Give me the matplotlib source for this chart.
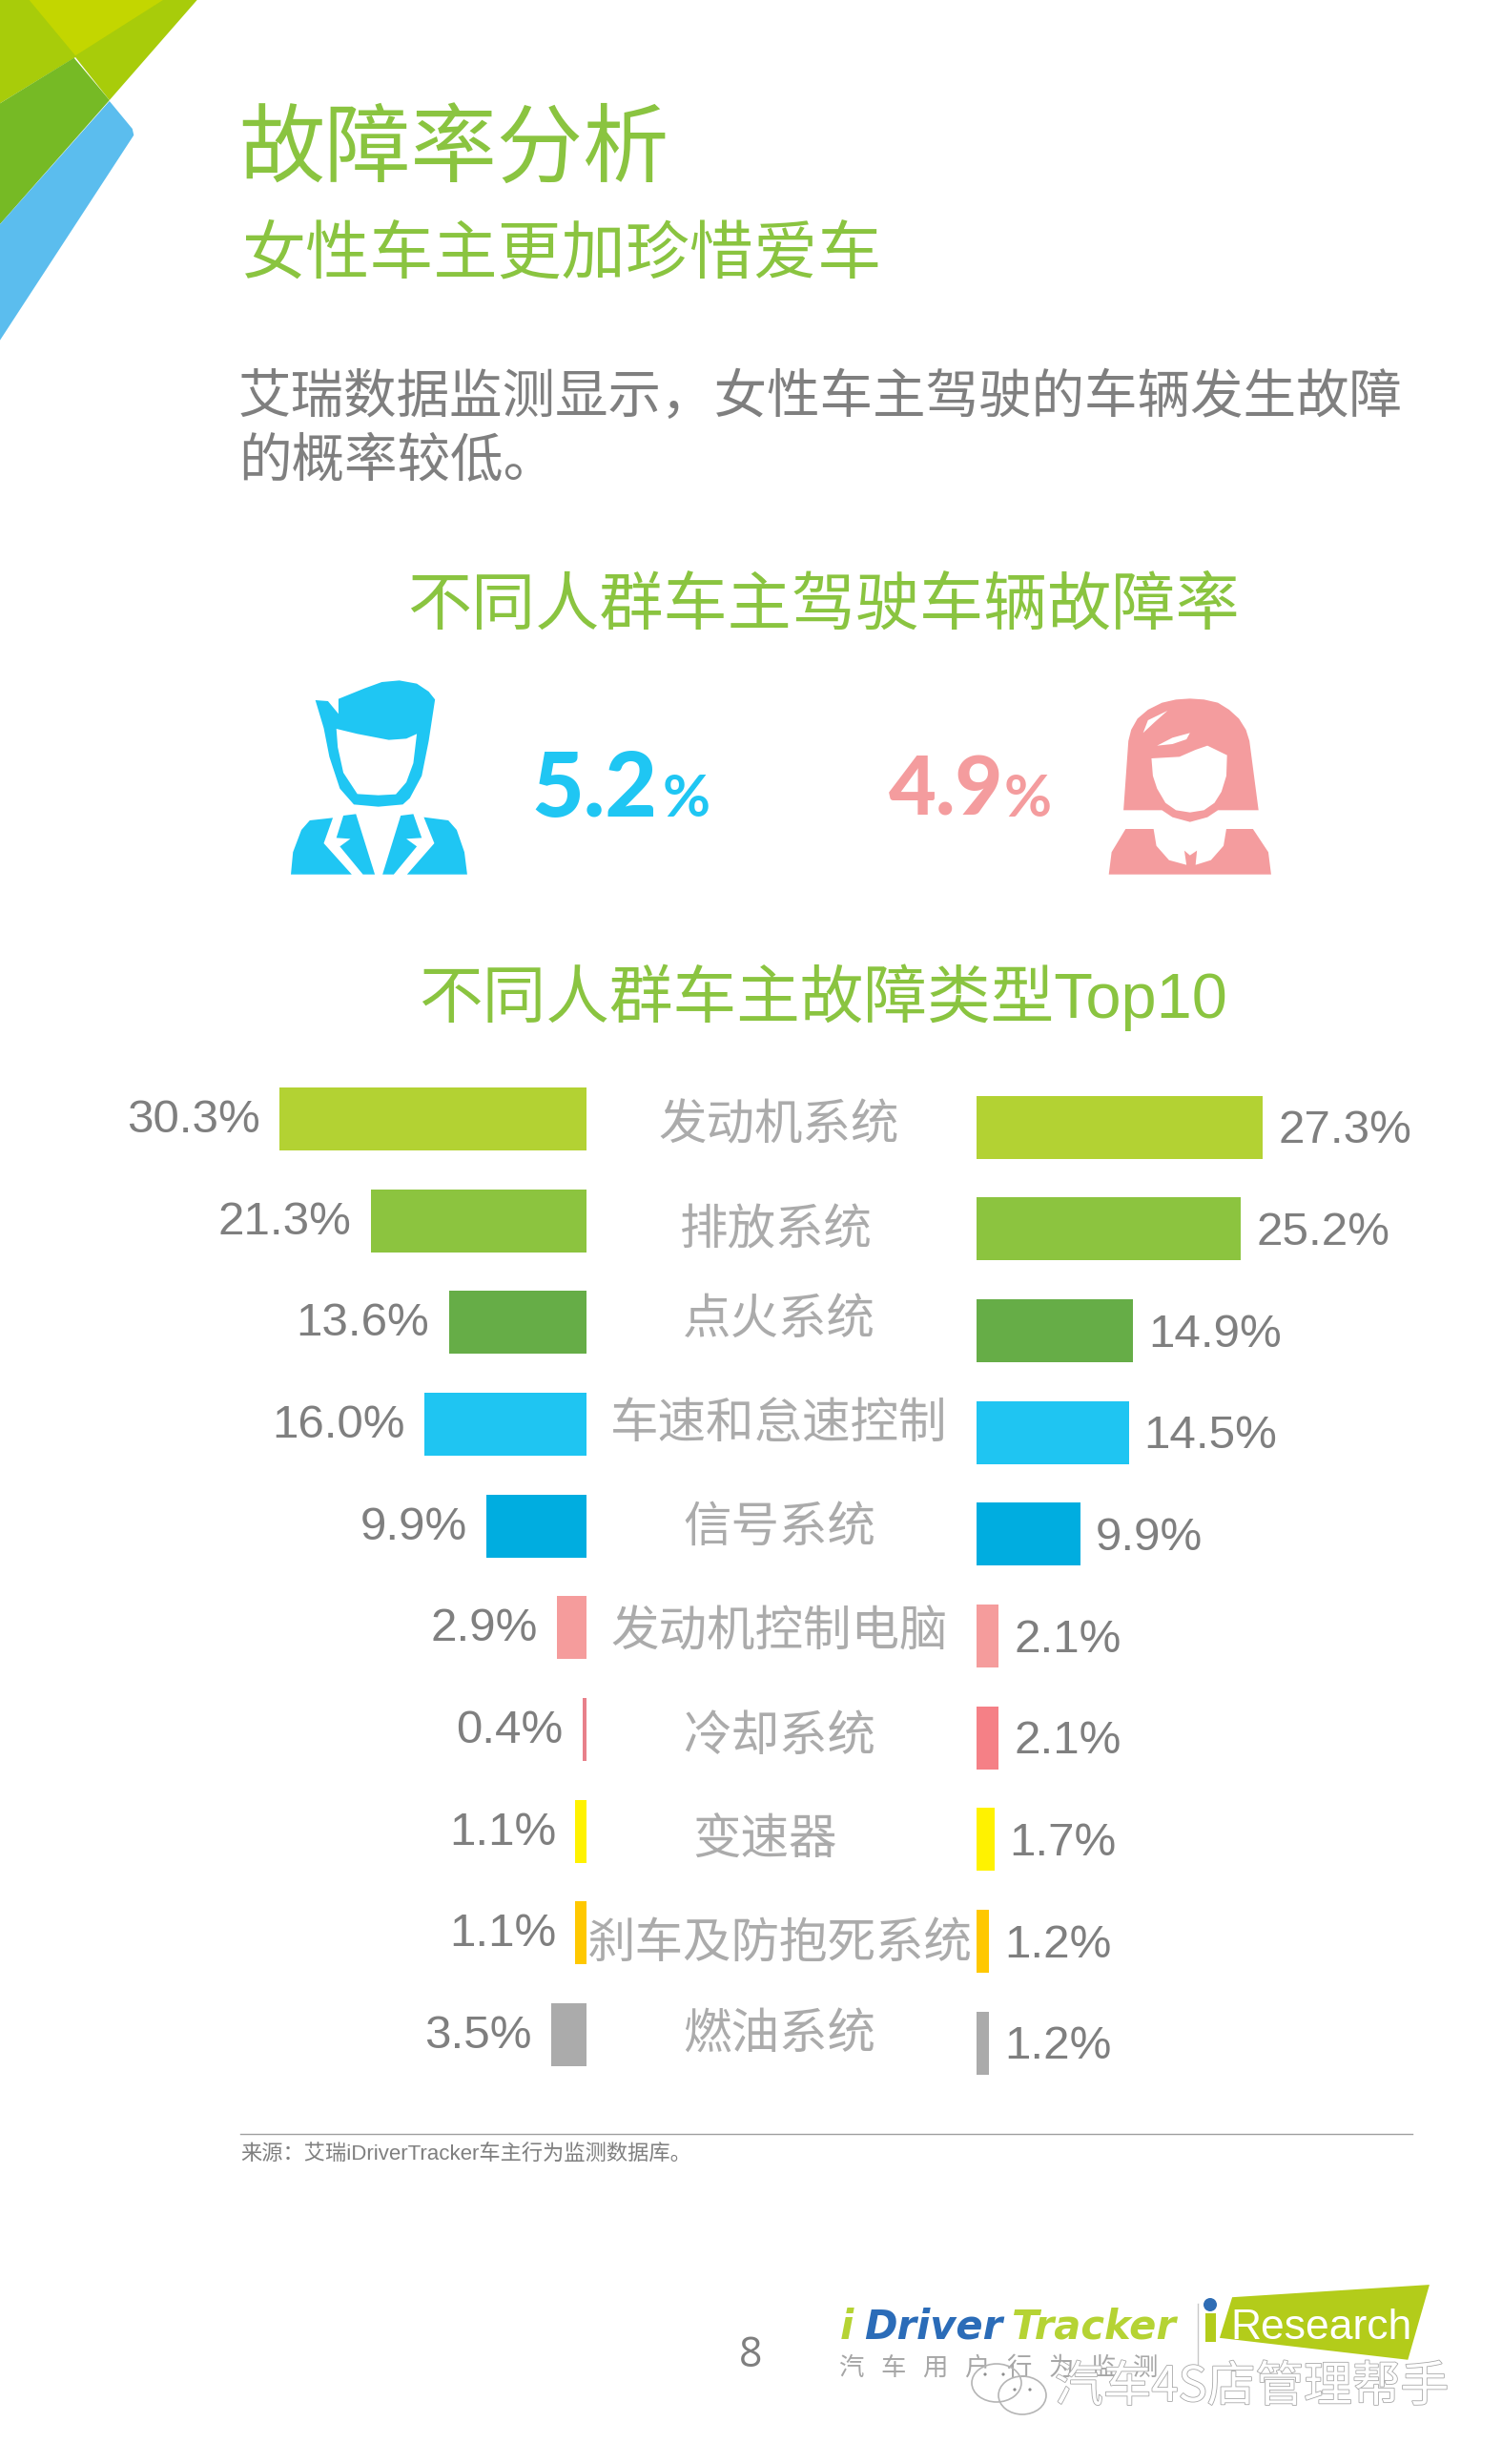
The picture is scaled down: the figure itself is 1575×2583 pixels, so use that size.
import matplotlib
matplotlib.use("Agg")
import matplotlib.pyplot as plt
from matplotlib.patches import Polygon, Ellipse, Circle, Rectangle
import matplotlib.patheffects as pe

plt.rcParams['font.family'] = ['Noto Sans CJK SC', 'DejaVu Sans']

W, H = 1575, 2583
DPI = 100

# ---- data ----
categories = ['发动机系统', '排放系统', '点火系统', '车速和怠速控制', '信号系统',
              '发动机控制电脑', '冷却系统', '变速器', '刹车及防抱死系统', '燃油系统']
male_values = [30.3, 21.3, 13.6, 16.0, 9.9, 2.9, 0.4, 1.1, 1.1, 3.5]
female_values = [27.3, 25.2, 14.9, 14.5, 9.9, 2.1, 2.1, 1.7, 1.2, 1.2]
male_rate = '5.2'
female_rate = '4.9'

# ---- styles ----
bar_colors = ['#B3D233', '#8CC43F', '#66AD47', '#1FC5F2', '#00ADE0',
              '#F59C9C', '#F58086', '#FFF200', '#FFC800', '#ABABAB']
male_colors = bar_colors[:6] + ['#E8808A'] + bar_colors[7:]
GREEN = '#8AC440'
GRAY = '#7F7F7F'
CAT = '#ABABAB'
BLUE = '#1FC6F3'
PINK = '#F49C9E'
MIXED = ['Liberation Sans', 'Noto Sans CJK SC']
cat_x = [817, 814, 817, 817, 817, 817, 817, 802, 818, 817]
cat_y = [1180, 1290, 1384, 1493, 1602, 1711, 1821, 1930, 2038, 2134]

fig = plt.figure(figsize=(W / DPI, H / DPI), dpi=DPI, facecolor='white')

deco = fig.add_axes([0, 0, 1, 1], zorder=0)
deco.set_xlim(0, W)
deco.set_ylim(H, 0)
deco.axis('off')


def poly(points, color, sx=1.0, sy=1.0, ox=0.0, oy=0.0, z=1):
    pts = [(ox + x / sx, oy + y / sy) for x, y in points]
    deco.add_patch(Polygon(pts, closed=True, facecolor=color, edgecolor='none', zorder=z))


# corner decoration
c = dict(sx=1.96, sy=3.0)
poly([(0, 0), (405, 0), (225, 315), (155, 180), (0, 325)], '#A8CC0A', **c)
poly([(60, 0), (335, 0), (155, 175)], '#C3D600', **c)
poly([(0, 325), (152, 182), (225, 315), (0, 705)], '#76BA25', **c)
poly([(225, 318), (272, 405), (275, 425), (0, 1070), (0, 705)], '#5BBDEE', **c)

# icons
ic = dict(sx=1.363, sy=3.0, ox=250, oy=680)
poly([(110, 162), (128, 165), (143, 205), (143, 158), (180, 125), (205, 105), (230, 100), (255, 110),
      (272, 135), (281, 160), (272, 290), (262, 400), (245, 470), (235, 490), (200, 497), (165, 490),
      (145, 440), (130, 340), (122, 250)], BLUE, **ic)
poly([(140, 252), (170, 268), (215, 287), (240, 283), (255, 268), (250, 360), (240, 420), (225, 458),
      (200, 461), (170, 457), (150, 390), (142, 310)], 'white', z=2, **ic)
poly([(75, 710), (78, 640), (90, 570), (102, 540), (135, 532), (122, 612), (162, 710)], BLUE, **ic)
poly([(150, 525), (168, 520), (195, 710), (178, 710), (145, 622), (160, 598), (140, 595)], BLUE, **ic)
poly([(241, 710), (280, 612), (265, 530), (300, 540), (312, 570), (323, 640), (327, 710)], BLUE, **ic)
poly([(232, 525), (250, 520), (262, 595), (240, 598), (255, 622), (222, 710), (206, 710)], BLUE, **ic)

poly([(1265, 508), (1272, 290), (1276, 255), (1285, 220), (1300, 192), (1320, 170), (1340, 160), (1360, 157),
      (1380, 160), (1400, 170), (1416, 192), (1430, 220), (1440, 255), (1445, 290), (1458, 508), (1400, 508),
      (1385, 530), (1360, 545), (1335, 530), (1320, 508)], PINK, **ic)
poly([(1305, 345), (1345, 340), (1368, 318), (1385, 305), (1413, 335), (1412, 400), (1405, 450), (1395, 485),
      (1380, 508), (1360, 515), (1340, 508), (1325, 485), (1313, 440), (1307, 400)], 'white', z=2, **ic)
poly([(1293, 265), (1300, 225), (1328, 195), (1310, 230)], 'white', z=2, **ic)
poly([(1313, 305), (1335, 280), (1360, 265), (1355, 285), (1335, 300)], 'white', z=2, **ic)
poly([(1244, 710), (1248, 640), (1268, 567), (1308, 567), (1312, 620), (1330, 665), (1355, 680),
      (1352, 635), (1360, 650), (1370, 635), (1368, 680), (1390, 665), (1408, 620), (1412, 567),
      (1450, 567), (1472, 640), (1476, 710)], PINK, **ic)


def t(x, y, s, size, color, ha='left', va='center', **kw):
    return deco.text(x, y, s, fontsize=size, color=color, ha=ha, va=va, zorder=5, **kw)


# headings
t(250, 159, '故障率分析', 65, GREEN)
t(254, 268, '女性车主更加珍惜爱车', 48.3, GREEN)
t(250, 417, '艾瑞数据监测显示，女性车主驾驶的车辆发生故障', 40, GRAY)
t(250, 484, '的概率较低。', 40, GRAY)
t(863, 636, '不同人群车主驾驶车辆故障率', 48.3, GREEN, ha='center')
t(863, 1046, '不同人群车主故障类型Top10', 48, GREEN, ha='center', family=MIXED)

# big rates
t(557, 829, male_rate, 68, BLUE, family='Lato', weight='black')
t(695, 838, '%', 44, BLUE, family='Lato', weight='bold')
t(932, 830, female_rate, 62, PINK, family='Lato', weight='black')
t(1053, 838, '%', 44, PINK, family='Lato', weight='bold')

# category labels
for cx, cy, name in zip(cat_x, cat_y, categories):
    t(cx, cy, name, 36.4, CAT, ha='center')

# bars
PITCH = 106.67
BAR_H = 66 / PITCH


def bar_axes(x0, x1, first_center, px_per_unit, reverse):
    top = first_center - PITCH / 2
    bottom = first_center + PITCH * 9.5
    ax = fig.add_axes([x0 / W, 1 - bottom / H, (x1 - x0) / W, (bottom - top) / H], zorder=3)
    ax.patch.set_alpha(0)
    span = (x1 - x0) / px_per_unit
    ax.set_xlim(span, 0) if reverse else ax.set_xlim(0, span)
    ax.set_ylim(9.5, -0.5)
    ax.axis('off')
    return ax


ax_l = bar_axes(100, 615, 1173, 10.62, True)
ax_r = bar_axes(1024, 1500, 1181.5, 11.0, False)
ypos = list(range(len(categories)))
ax_l.barh(ypos, male_values, height=BAR_H, color=male_colors, linewidth=0)
ax_r.barh(ypos, female_values, height=BAR_H, color=bar_colors, linewidth=0)

for y, v in zip(ypos, male_values):
    ax_l.annotate(f'{v:.1f}%', (v, y), xytext=(-14.5, -1), textcoords='offset points', ha='right',
                  va='center', fontsize=35.5, color=GRAY, family='Liberation Sans')
for y, v in zip(ypos, female_values):
    ax_r.annotate(f'{v:.1f}%', (v, y), xytext=(11.5, -3), textcoords='offset points', ha='left',
                  va='center', fontsize=35.5, color=GRAY, family='Liberation Sans')

# footer rule + source
deco.plot([252, 1481], [2237, 2237], color='#A0A0A0', lw=1, zorder=4)
t(252, 2259, '来源：艾瑞iDriverTracker车主行为监测数据库。', 16, GRAY, family=MIXED)
t(787, 2470, '8', 31, GRAY, ha='center', family='Open Sans')

# logos
t(881, 2440, 'i', 30, '#B5D334', family='DejaVu Sans', weight='bold', style='oblique')
t(906, 2440, 'Driver', 30, '#2B6CB8', family='DejaVu Sans', weight='bold', style='oblique')
t(1061, 2440, 'Tracker', 30, '#B5D334', family='DejaVu Sans', weight='bold', style='oblique')
t(880, 2482, '汽   车   用   户   行   为   监   测', 19, '#A6A6A6')
deco.plot([1256, 1256], [2415, 2478], color='#C8C8C8', lw=1, zorder=4)
deco.add_patch(Circle((1269, 2416), 7, facecolor='#2F6DB5', edgecolor='none', zorder=4))
deco.add_patch(Rectangle((1264, 2425), 11, 30, facecolor='#B3CC1A', edgecolor='none', zorder=4))
poly([(1030, 208), (1423, 168), (1380, 408), (1005, 338)], '#B3CC1A', sx=1.9, sy=3.05, ox=750, oy=2340, z=4)
t(1290, 2441, 'Research', 32, 'white', family='Liberation Sans')

# watermark
wm = t(1106, 2503, '汽车4S店管理帮手', 36.5, 'white')
wm.set_path_effects([pe.withStroke(linewidth=1.2, foreground='#A8A8A8')])
wm.set_zorder(7)
for (cx, cy, w_, h_) in [(1045, 2498, 52, 40), (1072, 2511, 50, 40)]:
    deco.add_patch(Ellipse((cx, cy), w_, h_, facecolor='none', edgecolor='#B5B5B5', lw=1.2, zorder=7))
for ex, ey in [(1064, 2505), (1080, 2505), (1033, 2489), (1052, 2489)]:
    deco.add_patch(Circle((ex, ey), 1.6, facecolor='#8C8C8C', edgecolor='none', zorder=7))

fig.savefig('out.png', dpi=DPI, facecolor='white')
